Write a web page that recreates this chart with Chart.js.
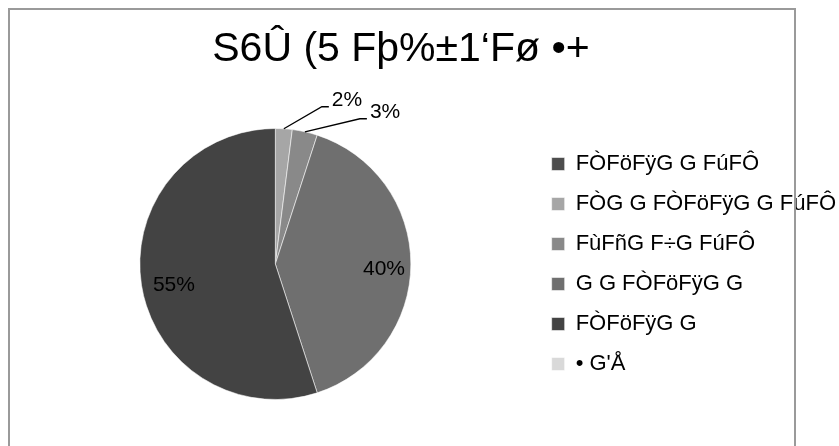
<!DOCTYPE html>
<html>
<head>
<meta charset="utf-8">
<title>Pie</title>
<script src="https://cdn.jsdelivr.net/npm/chart.js@4.4.0/dist/chart.umd.min.js"></script>
<style>
  html, body { margin: 0; padding: 0; background: #fff; overflow: hidden; }
  #wrap { position: relative; width: 839px; height: 446px; }
  #frame { position: absolute; left: 8px; top: 8px; width: 784px; height: 470px; border: 2px solid #9a9a9a; pointer-events: none; }
  #pie-chart { position: absolute; left: 0; top: 0; }
</style>
</head>
<body>
<div id="wrap">
  <canvas id="pie-chart" width="839" height="446"></canvas>
  <div id="frame"></div>
</div>
<script>
  'use strict'

  // chart data
  var titleText = 'S6Û (5 Fþ%±1‘Fø •+'
  var categories = ['FÒFöFÿG G FúFÔ', 'FÒG G FÒFöFÿG G FúFÔ', 'FùFñG F÷G FúFÔ', 'G G FÒFöFÿG G', 'FÒFöFÿG G', '• G\'Å']
  var shares = [0, 2, 3, 40, 55, 0]

  var sliceColors = ['#4d4d4d', '#a6a6a6', '#898989', '#6f6f6f', '#434343', '#d9d9d9']
  var fontFamily = '"Liberation Sans", Arial, sans-serif'

  Chart.defaults.font.family = fontFamily
  Chart.defaults.color = '#000'

  // Title drawn centred on the chart frame
  var titlePlugin = {
    id: 'frameTitle',
    afterDraw: function (chart) {
      var ctx = chart.ctx
      ctx.save()
      ctx.font = '41px ' + fontFamily
      ctx.fillStyle = '#000'
      ctx.textAlign = 'center'
      ctx.textBaseline = 'alphabetic'
      ctx.fillText(titleText, 401, 61)
      ctx.restore()
    }
  }

  // Percentage labels, small slices get a leader line
  var leaderOffsets = { 1: [38, -22], 2: [55, -13] }
  var pieLabels = {
    id: 'pieLabels',
    afterDatasetsDraw: function (chart) {
      var ctx = chart.ctx
      var meta = chart.getDatasetMeta(0)
      var total = shares.reduce(function (a, b) { return a + b }, 0)
      ctx.save()
      ctx.font = '21px ' + fontFamily
      ctx.fillStyle = '#000'
      ctx.strokeStyle = '#000'
      ctx.lineWidth = 1.3
      meta.data.forEach(function (arc, i) {
        var v = shares[i]
        if (!v) return
        var text = Math.round(v / total * 100) + '%'
        var p = arc.getProps(['x', 'y', 'startAngle', 'endAngle', 'outerRadius'], true)
        var mid = (p.startAngle + p.endAngle) / 2
        if (v / total >= 0.1) {
          var r = p.outerRadius * 0.78
          ctx.textAlign = 'center'
          ctx.textBaseline = 'middle'
          ctx.fillText(text, p.x + Math.cos(mid) * r + 3, p.y + Math.sin(mid) * r + 5)
        } else {
          var ex = p.x + Math.cos(mid) * p.outerRadius
          var ey = p.y + Math.sin(mid) * p.outerRadius
          var o = leaderOffsets[i] || [30, -20]
          var kx = ex + o[0]
          var ky = ey + o[1]
          ctx.beginPath()
          ctx.moveTo(ex, ey)
          ctx.lineTo(kx, ky)
          ctx.lineTo(kx + 7, ky)
          ctx.stroke()
          ctx.textAlign = 'left'
          ctx.textBaseline = 'alphabetic'
          ctx.fillText(text, kx + 10, ky - 1)
        }
      })
      ctx.restore()
    }
  }

  var pieCanvas = document.getElementById('pie-chart').getContext('2d')

  var pieChart = new Chart(pieCanvas, {
    type: 'pie',
    data: {
      labels: categories,
      datasets: [{
        data: shares,
        backgroundColor: sliceColors,
        borderColor: 'rgba(255,255,255,0.55)',
        borderWidth: 1,
        hoverOffset: 0
      }]
    },
    options: {
      responsive: false,
      animation: false,
      layout: {
        padding: { top: 128, bottom: 46, left: 17, right: -7 }
      },
      plugins: {
        title: { display: false },
        tooltip: { enabled: false },
        legend: {
          position: 'right',
          align: 'center',
          labels: {
            boxWidth: 13,
            boxHeight: 13,
            padding: 18,
            color: '#000',
            font: { size: 22 }
          }
        }
      }
    },
    plugins: [titlePlugin, pieLabels]
  })
</script>
</body>
</html>
